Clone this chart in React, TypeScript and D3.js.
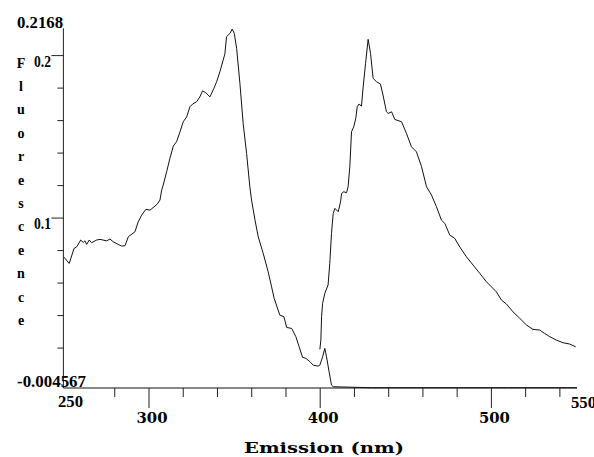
import React from "react";
import * as d3 from "d3";

// Trace 1 (left band, falls to baseline after ~407 nm)
const excitationNm = [
  250.3, 253.4, 256.2, 257.8, 260.1, 261.6, 262.6, 263.6, 265.1, 266.5, 269.4, 271.4,
  275.3, 277.2, 279.1, 282.0, 284.0, 286.0, 287.9, 291.8, 293.7, 295.7, 298.2, 300.6,
  303.5, 304.8, 306.4, 307.4, 308.3, 310.3, 312.2, 314.2, 316.1, 318.1, 320.0, 322.0,
  323.9, 325.5, 327.8, 329.7, 331.3, 333.2, 335.6, 337.9, 339.5, 341.4, 343.3, 344.3,
  345.3, 347.3, 348.6, 349.8, 351.2, 353.1, 355.0, 357.0, 358.9, 359.9, 361.9, 363.8,
  366.7, 369.6, 371.6, 373.1, 376.4, 378.8, 380.4, 383.3, 385.8, 387.7, 389.7, 391.6,
  394.0, 395.9, 398.8, 399.8, 401.4, 402.7, 403.7, 405.2, 406.6, 407.6, 430, 470, 510, 550,
];
const excitationValue = [
  0.076, 0.0721, 0.0813, 0.0823, 0.0865, 0.085, 0.086, 0.0838, 0.0865, 0.0848, 0.0865, 0.0869,
  0.086, 0.0871, 0.0854, 0.0838, 0.0828, 0.083, 0.0885, 0.0916, 0.0977, 0.1018, 0.1054, 0.1049,
  0.1074, 0.1086, 0.1111, 0.1172, 0.1203, 0.1285, 0.1367, 0.1443, 0.147, 0.1531, 0.1593, 0.1623,
  0.1685, 0.1702, 0.1716, 0.1746, 0.1783, 0.1771, 0.1746, 0.1798, 0.1839, 0.19, 0.1972, 0.2009,
  0.2116, 0.2137, 0.2163, 0.2137, 0.2044, 0.1829, 0.1583, 0.1398, 0.1193, 0.1111, 0.0988, 0.0885,
  0.0783, 0.067, 0.0577, 0.0506, 0.0403, 0.0393, 0.0327, 0.0321, 0.027, 0.0208, 0.0143, 0.0137,
  0.0116, 0.0095, 0.0089, 0.0095, 0.0146, 0.0198, 0.0146, 0.0054, -0.0028, -0.0038, -0.0044, -0.0044, -0.0044, -0.0044,
];

// Trace 2 (right band, starts at ~400 nm)
const emissionNm = [
  399.8, 400.4, 400.8, 401.4, 402.7, 404.6, 405.6, 406.6, 407.6, 408.6, 410.5, 411.9,
  412.5, 413.8, 415.4, 416.3, 417.3, 418.3, 419.6, 420.8, 421.6, 422.7, 424.1, 425.1,
  426.5, 428.0, 429.4, 430.9, 432.9, 435.2, 436.7, 438.7, 439.7, 441.7, 443.6, 447.5,
  450.4, 453.3, 456.2, 459.2, 462.1, 465.0, 467.9, 470.8, 472.8, 475.7, 478.6, 481.5,
  485.4, 489.3, 493.2, 497.1, 500.0, 502.9, 505.9, 508.8, 512.6, 516.6, 520.5, 524.3,
  528.2, 531.1, 534.1, 538.0, 541.8, 545.7, 549.2,
];
const emissionValue = [
  0.0192, 0.0249, 0.0393, 0.0475, 0.0537, 0.0588, 0.0721, 0.0906, 0.1029, 0.106, 0.1039, 0.11,
  0.1152, 0.1162, 0.1156, 0.1193, 0.1316, 0.1531, 0.1562, 0.1614, 0.1685, 0.1702, 0.1689, 0.1808,
  0.1952, 0.21, 0.2014, 0.186, 0.1839, 0.1825, 0.1757, 0.1654, 0.1644, 0.1654, 0.1607, 0.1593,
  0.1521, 0.1439, 0.1408, 0.1316, 0.1193, 0.1142, 0.107, 0.0988, 0.0967, 0.0895, 0.0875, 0.0823,
  0.0762, 0.0711, 0.066, 0.0608, 0.0577, 0.0546, 0.0495, 0.0471, 0.0423, 0.0383, 0.0342, 0.0315,
  0.0311, 0.029, 0.027, 0.0249, 0.0233, 0.0225, 0.0208,
];

const xDomain = [250, 550];
const yDomain = [-0.004567, 0.2168];
const xMajorTicks = [300, 400, 500];
const xMinorTicks = [280, 320, 340, 360, 380, 420, 440, 460, 480, 520, 540];
const yMajorTicks = [0.1, 0.2];
const yMinorTicks = [0.02, 0.04, 0.06, 0.08, 0.12, 0.14, 0.16, 0.18];
const yAxisTitle = "Fluorescence";
const xAxisTitle = "Emission (nm)";

export default function App() {
  const W = 594, H = 457;
  const x = d3.scaleLinear().domain(xDomain).range([63.4, 577]);
  const y = d3.scaleLinear().domain(yDomain).range([388, 28.3]);
  const line = d3.line<[number, number]>().x((d) => x(d[0])).y((d) => y(d[1]));
  const exc = excitationNm.map((n, i) => [n, excitationValue[i]] as [number, number]);
  const em = emissionNm.map((n, i) => [n, emissionValue[i]] as [number, number]);
  const x0 = x(xDomain[0]);
  const yb = y(yDomain[0]);
  const serif = "'Liberation Serif', 'Times New Roman', serif";
  const wide = "'DejaVu Serif', serif";
  return (
    <svg width={W} height={H} style={{ position: "absolute", left: 0, top: 0, background: "#fff" }}>
      <rect width={W} height={H} fill="#fff" />
      {/* axes */}
      <line x1={x0} x2={x0} y1={y(yDomain[1])} y2={yb} stroke="#222" strokeWidth={1} />
      <line x1={x0} x2={x(xDomain[1])} y1={yb} y2={yb} stroke="#111" strokeWidth={1.2} />
      {yMajorTicks.map((t) => (
        <g key={"ym" + t}>
          <line x1={x0 - 12} x2={x0} y1={y(t)} y2={y(t)} stroke="#222" />
          <text x={51} y={y(t) + 11} textAnchor="end" fontFamily={serif} fontWeight="bold" fontSize={16}
            textLength={17} lengthAdjust="spacingAndGlyphs">{String(t)}</text>
        </g>
      ))}
      {yMinorTicks.map((t) => (
        <line key={"yn" + t} x1={x0 - 6} x2={x0} y1={y(t)} y2={y(t)} stroke="#222" />
      ))}
      {xMajorTicks.map((t) => (
        <g key={"xm" + t}>
          <line x1={x(t)} x2={x(t)} y1={yb} y2={yb + 20} stroke="#222" />
          <text x={x(t) + 3} y={422.7} textAnchor="middle" fontFamily={wide} fontWeight="bold" fontSize={15}
            textLength={31} lengthAdjust="spacingAndGlyphs">{String(t)}</text>
        </g>
      ))}
      {xMinorTicks.map((t) => (
        <line key={"xn" + t} x1={x(t)} x2={x(t)} y1={yb} y2={yb + 9} stroke="#222" />
      ))}
      {/* range labels */}
      <text x={17} y={28} fontFamily={serif} fontWeight="bold" fontSize={17} textLength={46}
        lengthAdjust="spacingAndGlyphs">{String(yDomain[1])}</text>
      <text x={17} y={387} fontFamily={serif} fontWeight="bold" fontSize={16} textLength={69}
        lengthAdjust="spacingAndGlyphs">{String(yDomain[0])}</text>
      <text x={58} y={407} fontFamily={serif} fontWeight="bold" fontSize={17} textLength={25}
        lengthAdjust="spacingAndGlyphs">{String(xDomain[0])}</text>
      <text x={571} y={408} fontFamily={serif} fontWeight="bold" fontSize={17} textLength={25}
        lengthAdjust="spacingAndGlyphs">{String(xDomain[1])}</text>
      {/* titles */}
      {yAxisTitle.split("").map((ch, i) => (
        <text key={"ft" + i} x={21} y={67.5 + i * 23.4} textAnchor="middle" fontFamily={serif}
          fontWeight="bold" fontSize={14}>{ch}</text>
      ))}
      <text x={244} y={453} fontFamily={wide} fontWeight="bold" fontSize={15} textLength={160}
        lengthAdjust="spacingAndGlyphs">{xAxisTitle}</text>
      {/* data */}
      <path d={line(exc) || ""} fill="none" stroke="#111" strokeWidth={1} />
      <path d={line(em) || ""} fill="none" stroke="#111" strokeWidth={1} />
    </svg>
  );
}
